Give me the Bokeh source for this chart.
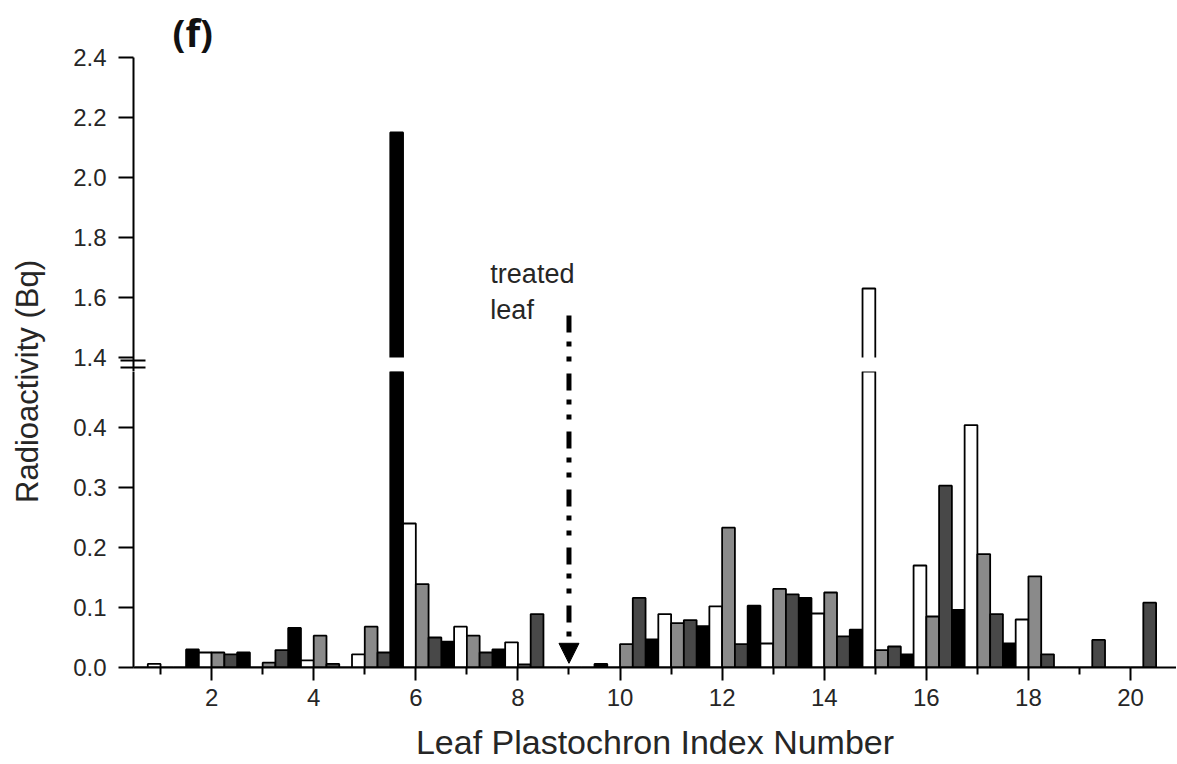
from math import pi
from bokeh.plotting import figure
from bokeh.layouts import row, column
from bokeh.models import (ColumnDataSource, Range1d, FixedTicker, Label, Arrow,
                          NormalHead, NumeralTickFormatter, CDSView, BooleanFilter)
from bokeh.transform import dodge
from bokeh.embed import file_html
from bokeh.resources import INLINE

# ---------------- data ----------------
leaf = list(range(1, 21))
black = [0.0, 0.030, 0.025, 0.066, 0.0, 2.15, 0.043, 0.030, 0.0, 0.006,
         0.047, 0.069, 0.103, 0.116, 0.063, 0.022, 0.096, 0.040, 0.0, 0.0]
white = [0.006, 0.025, 0.0, 0.012, 0.022, 0.240, 0.068, 0.042, 0.0, 0.0,
         0.089, 0.102, 0.040, 0.090, 1.63, 0.170, 0.404, 0.080, 0.0, 0.0]
gray = [0.0, 0.025, 0.008, 0.053, 0.068, 0.139, 0.053, 0.005, 0.0, 0.039,
        0.074, 0.233, 0.131, 0.125, 0.029, 0.085, 0.189, 0.152, 0.0, 0.0]
dark = [0.0, 0.022, 0.029, 0.006, 0.025, 0.050, 0.025, 0.089, 0.0, 0.116,
        0.079, 0.039, 0.122, 0.052, 0.035, 0.303, 0.089, 0.022, 0.046, 0.108]
treated_leaf = 9
x_ticks = [2, 4, 6, 8, 10, 12, 14, 16, 18, 20]
x_minor = [1, 3, 5, 7, 9, 11, 13, 15, 17, 19]
low_ticks = [0.0, 0.1, 0.2, 0.3, 0.4]
up_ticks = [1.4, 1.6, 1.8, 2.0, 2.2, 2.4]
break_low, break_high = 0.4933, 1.4   # axis break: lower segment top, upper segment bottom

series = {"black": black, "white": white, "gray": gray, "dark": dark}
offsets = [-0.375, -0.125, 0.125, 0.375]
fills = ["#000000", "#ffffff", "#8a8a8a", "#484848"]

source = ColumnDataSource(dict(leaf=leaf, **series))

FONT = "Liberation Sans"
TXT = "#262626"
xr = Range1d(0.47, 20.90)
GAP = 14 / 300.0                         # gap between panels, in upper-panel units
DASH = "17 9 5 10 5 12"

def style(p):
    p.grid.visible = False
    p.outline_line_color = None
    p.background_fill_color = "white"
    p.border_fill_color = "white"

def style_yaxis(p, ticks, minor):
    ax = p.yaxis[0]
    ax.ticker = FixedTicker(ticks=ticks, minor_ticks=minor)
    ax.formatter = NumeralTickFormatter(format="0.0")
    ax.axis_line_width = 2
    ax.major_tick_line_width = 2
    ax.major_tick_out = 15
    ax.major_tick_in = 0
    ax.minor_tick_line_width = 2
    ax.minor_tick_out = 13
    ax.minor_tick_in = 12
    ax.major_label_text_font = FONT
    ax.major_label_text_font_size = "24px"
    ax.major_label_text_color = TXT
    ax.major_label_standoff = 12

def add_bars(p, threshold=None):
    for (key, vals), off, col in zip(series.items(), offsets, fills):
        kw = {}
        if threshold is not None:
            kw["view"] = CDSView(filter=BooleanFilter([v > threshold for v in vals]))
        p.vbar(x=dodge("leaf", off, range=p.x_range), top=key, bottom=0, width=0.25,
               source=source, fill_color=col, line_color="black", line_width=1.8, **kw)

# ---------------- label strip ----------------
lab = figure(width=66, height=764, x_range=Range1d(0, 66), y_range=Range1d(0, 764),
             toolbar_location=None, output_backend="svg", min_border=0)
style(lab)
lab.axis.visible = False
lab.add_layout(Label(x=27, y=383, text="Radioactivity (Bq)", angle=pi / 2,
                     text_align="center", text_baseline="middle",
                     text_font=FONT, text_font_size="31px", text_color=TXT))

# ---------------- upper panel ----------------
up = figure(width=1110, height=371, x_range=xr, y_range=Range1d(break_high - GAP, 2.4),
            toolbar_location=None, output_backend="svg", title="(f)",
            min_border_left=67, min_border_right=0, min_border_top=57, min_border_bottom=0)
style(up)
up.title.text_font = "Open Sans"
up.title.text_font_style = "bold"
up.title.text_font_size = "38px"
up.title.text_color = "#111111"
up.title.align = "left"
up.title.offset = 39
up.title.standoff = 0
up.xaxis.visible = False
style_yaxis(up, up_ticks, [break_high - 3 / 300.0, break_high - 10 / 300.0])
add_bars(up, threshold=break_high)
# blank band of the axis break
up.quad(left=[xr.start], right=[xr.end], bottom=[break_high - GAP], top=[break_high],
        fill_color="white", line_color=None)
up.segment(x0=[treated_leaf], y0=[1.54], x1=[treated_leaf], y1=[break_high - GAP],
           line_color="black", line_width=5, line_dash=DASH)
up.add_layout(Label(x=7.46, y=1.677, text="treated", text_font=FONT,
                    text_font_size="27px", text_color=TXT, text_align="left",
                    text_baseline="alphabetic"))
up.add_layout(Label(x=7.46, y=1.557, text="leaf", text_font=FONT,
                    text_font_size="27px", text_color=TXT, text_align="left",
                    text_baseline="alphabetic"))

# ---------------- lower panel ----------------
lo = figure(width=1110, height=393, x_range=xr, y_range=Range1d(0.0, break_low),
            toolbar_location=None, output_backend="svg",
            min_border_left=67, min_border_right=0, min_border_top=0, min_border_bottom=97)
style(lo)
style_yaxis(lo, low_ticks, [])
xa = lo.xaxis[0]
xa.ticker = FixedTicker(ticks=x_ticks, minor_ticks=x_minor)
xa.axis_line_width = 2
xa.major_tick_line_width = 2
xa.minor_tick_line_width = 2
xa.major_tick_out = 13
xa.major_tick_in = 0
xa.minor_tick_out = 7
xa.minor_tick_in = 0
xa.major_label_text_font = FONT
xa.major_label_text_font_size = "24px"
xa.major_label_text_color = TXT
xa.major_label_standoff = 8
xa.axis_label = "Leaf Plastochron Index Number"
xa.axis_label_text_font = FONT
xa.axis_label_text_font_style = "normal"
xa.axis_label_text_font_size = "34px"
xa.axis_label_text_color = TXT
xa.axis_label_standoff = 14
add_bars(lo)
lo.add_layout(Arrow(end=NormalHead(size=20, fill_color="black", line_color="black"),
                    x_start=treated_leaf, y_start=break_low, x_end=treated_leaf, y_end=0.007,
                    line_width=5, line_color="black", line_dash=DASH,
                    line_dash_offset=56))

layout = row(lab, column(up, lo, spacing=0), spacing=0)
open("out.html", "w").write(file_html(layout, INLINE))
